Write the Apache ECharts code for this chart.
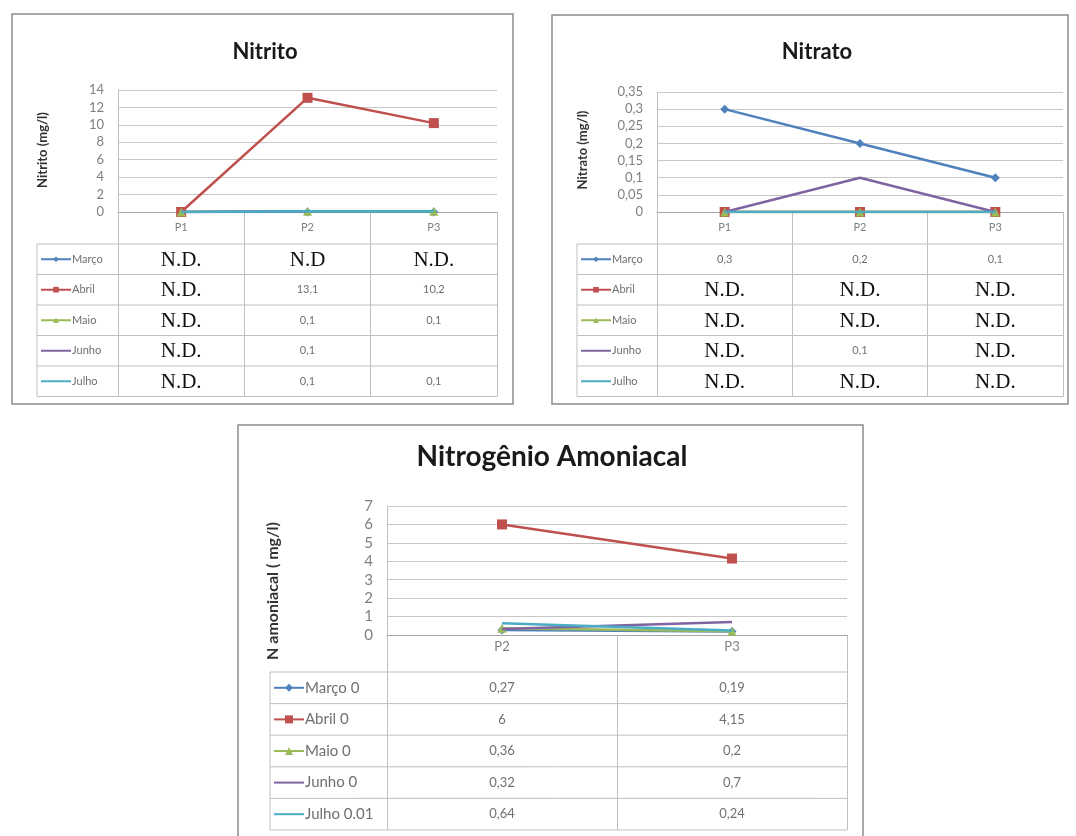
<!DOCTYPE html>
<html><head><meta charset="utf-8">
<script src="https://cdn.jsdelivr.net/npm/echarts@6/dist/echarts.min.js"></script>
<style>html,body{margin:0;padding:0;background:#fff}#c{width:1076px;height:836px}</style>
</head><body><div id="c"></div>
<script>
// ---------- data ----------
const months = ['Março', 'Abril', 'Maio', 'Junho', 'Julho'];
const monthsAmon = ['Março 0', 'Abril 0', 'Maio 0', 'Junho 0', 'Julho 0.01'];
const pointsA = ['P1', 'P2', 'P3'];
const pointsB = ['P2', 'P3'];

// Nitrito (N.D. plotted as 0, as in the source chart)
const nitritoMarco = [0, 0, 0];
const nitritoAbril = [0, 13.1, 10.2];
const nitritoMaio  = [0, 0.1, 0.1];
const nitritoJunho = [0, 0.1, null];
const nitritoJulho = [0, 0.1, 0.1];
// Nitrato
const nitratoMarco = [0.3, 0.2, 0.1];
const nitratoAbril = [0, 0, 0];
const nitratoMaio  = [0, 0, 0];
const nitratoJunho = [0, 0.1, 0];
const nitratoJulho = [0, 0, 0];
// Nitrogênio amoniacal
const amonMarco = [0.27, 0.19];
const amonAbril = [6, 4.15];
const amonMaio  = [0.36, 0.2];
const amonJunho = [0.32, 0.7];
const amonJulho = [0.64, 0.24];

// data-table texts
const nitritoCells = [
  ['N.D.', 'N.D', 'N.D.'],
  ['N.D.', '13,1', '10,2'],
  ['N.D.', '0,1', '0,1'],
  ['N.D.', '0,1', ''],
  ['N.D.', '0,1', '0,1']
];
const nitratoCells = [
  ['0,3', '0,2', '0,1'],
  ['N.D.', 'N.D.', 'N.D.'],
  ['N.D.', 'N.D.', 'N.D.'],
  ['N.D.', '0,1', 'N.D.'],
  ['N.D.', 'N.D.', 'N.D.']
];
const amonCells = [
  ['0,27', '0,19'],
  ['6', '4,15'],
  ['0,36', '0,2'],
  ['0,32', '0,7'],
  ['0,64', '0,24']
];
const titles = ['Nitrito', 'Nitrato', 'Nitrogênio Amoniacal'];
const yNames = ['Nitrito (mg/l)', 'Nitrato (mg/l)', 'N amoniacal ( mg/l)'];
const yMax = [14, 0.35, 7];
const yStep = [2, 0.05, 1];

// ---------- layout ----------
const SANS = 'Lato, "Liberation Sans", sans-serif';
const SERIF = '"Liberation Serif", "DejaVu Serif", serif';
const colors = ['#4F81BD', '#C0504D', '#9BBB59', '#8064A2', '#4BACC6'];
const symbols = ['diamond', 'rect', 'triangle', 'none', 'none'];
const G = [
  {left: 118, top: 90, width: 379, height: 122},
  {left: 657, top: 92, width: 406, height: 120},
  {left: 387, top: 506, width: 460, height: 129}
];
const T = [
  {x0: 37, top: 244, rowH: 30.5, legFont: 11, legLH: 12, icoH: 7, cellFont: 11, ndFont: 21},
  {x0: 577, top: 244, rowH: 30.5, legFont: 11, legLH: 12, icoH: 7, cellFont: 11, ndFont: 21},
  {x0: 270, top: 672, rowH: 31.6, legFont: 15, legLH: 16, icoH: 10, cellFont: 13, ndFont: 21}
];
const panels = [
  {x: 12, y: 14, w: 501, h: 390},
  {x: 552, y: 15, w: 516, h: 389},
  {x: 238, y: 425, w: 625, h: 420}
];
const titlePos = [[265, 52, 22], [817, 52, 22], [552, 457, 28]];
const yNamePos = [[43, 150, 13], [583, 150, 13], [273, 591, 16]];

const seriesSets = [
  [nitritoMarco, nitritoAbril, nitritoMaio, nitritoJunho, nitritoJulho],
  [nitratoMarco, nitratoAbril, nitratoMaio, nitratoJunho, nitratoJulho],
  [amonMarco, amonAbril, amonMaio, amonJunho, amonJulho]
];
const nameSets = [months, months, monthsAmon];
const catSets = [pointsA, pointsA, pointsB];
const cellSets = [nitritoCells, nitratoCells, amonCells];

const series = [];
seriesSets.forEach((set, p) => {
  set.forEach((d, k) => {
    series.push({
      type: 'line', name: nameSets[p][k], data: d,
      xAxisIndex: p, yAxisIndex: p,
      symbol: symbols[k], symbolSize: k === 1 ? 10 : 9,
      lineStyle: {width: 2.5, color: colors[k]},
      itemStyle: {color: colors[k]},
      z: 2 + k, animation: false
    });
  });
});

const fmtComma = v => String(+v.toFixed(2)).replace('.', ',');
const LINE_ICON = 'path://M0,0L30,0L30,2L0,2Z';

const option = {
  backgroundColor: '#fff',
  animation: false,
  grid: G.map(g => Object.assign({containLabel: false}, g)),
  xAxis: [0, 1, 2].map(p => ({
    type: 'category', gridIndex: p, data: catSets[p], boundaryGap: true,
    axisLine: {lineStyle: {color: '#a6a6a6', width: 1}},
    axisTick: {show: true, length: T[p].top + 5 * T[p].rowH - (G[p].top + G[p].height),
               lineStyle: {color: '#bfbfbf'}},
    axisLabel: {color: '#7f7f7f', fontSize: p === 2 ? 13 : 11, fontFamily: SANS,
                margin: p === 2 ? 5 : 10}
  })),
  yAxis: [0, 1, 2].map(p => ({
    type: 'value', gridIndex: p, min: 0, max: yMax[p], interval: yStep[p],
    axisLine: {show: true, lineStyle: {color: '#bfbfbf'}},
    axisTick: {show: false},
    splitLine: {lineStyle: {color: '#c8c8c8'}},
    axisLabel: {color: '#7f7f7f', fontSize: p === 2 ? 15 : 13, fontFamily: SANS,
                margin: 14, formatter: p === 1 ? fmtComma : (v => String(v))}
  })),
  legend: [0, 1, 2].map(p => {
    const t = T[p];
    return {
      orient: 'vertical', selectedMode: false, padding: 0,
      left: t.x0 + 3, top: t.top + t.rowH / 2 - t.legLH / 2,
      itemWidth: 30, itemHeight: t.icoH, itemGap: t.rowH - t.legLH,
      data: nameSets[p].map((n, k) => symbols[k] === 'none'
        ? {name: n, icon: LINE_ICON, itemStyle: {color: colors[k], borderWidth: 0}}
        : {name: n}),
      textStyle: {color: '#6f6f6f', fontSize: t.legFont, lineHeight: t.legLH,
                  fontFamily: SANS, padding: [0, 0, 0, -4]}
    };
  }),
  series: series
};

const chart = echarts.init(document.getElementById('c'));
chart.setOption(option);

// ---------- titles, panel frames and data tables ----------
const graphic = [];
panels.forEach(b => graphic.push({
  type: 'rect', shape: {x: b.x, y: b.y, width: b.w, height: b.h},
  style: {fill: 'none', stroke: '#8c8c8c', lineWidth: 1.5}, z: 0
}));
titles.forEach((t, p) => graphic.push({
  type: 'text', x: titlePos[p][0], y: titlePos[p][1],
  style: {text: t, font: 'bold ' + titlePos[p][2] + 'px ' + SANS, fill: '#1a1a1a',
          align: 'center', verticalAlign: 'middle'}
}));
yNames.forEach((t, p) => graphic.push({
  type: 'text', x: yNamePos[p][0], y: yNamePos[p][1], rotation: Math.PI / 2,
  style: {text: t, font: 'bold ' + yNamePos[p][2] + 'px ' + SANS, fill: '#333',
          align: 'center', verticalAlign: 'middle'}
}));
[0, 1, 2].forEach(p => {
  const t = T[p];
  const right = G[p].left + G[p].width;
  for (let r = 0; r <= 5; r++) {
    graphic.push({type: 'line', shape: {x1: t.x0, y1: t.top + r * t.rowH, x2: right, y2: t.top + r * t.rowH},
                  style: {stroke: '#bfbfbf', lineWidth: 1}});
  }
  graphic.push({type: 'line', shape: {x1: t.x0, y1: t.top, x2: t.x0, y2: t.top + 5 * t.rowH},
                style: {stroke: '#bfbfbf', lineWidth: 1}});
  cellSets[p].forEach((row, r) => {
    row.forEach((txt, c) => {
      if (!txt) return;
      const cx = chart.convertToPixel({xAxisIndex: p}, catSets[p][c]);
      const cy = t.top + (r + 0.5) * t.rowH;
      const nd = txt.indexOf('N.D') === 0;
      graphic.push({
        type: 'text', x: cx, y: cy + (nd ? 1 : 0),
        style: {text: txt, align: 'center', verticalAlign: 'middle',
                font: nd ? (t.ndFont + 'px ' + SERIF) : (t.cellFont + 'px ' + SANS),
                fill: nd ? '#111' : '#707070'}
      });
    });
  });
});
chart.setOption({graphic: graphic});
</script>
</body></html>
